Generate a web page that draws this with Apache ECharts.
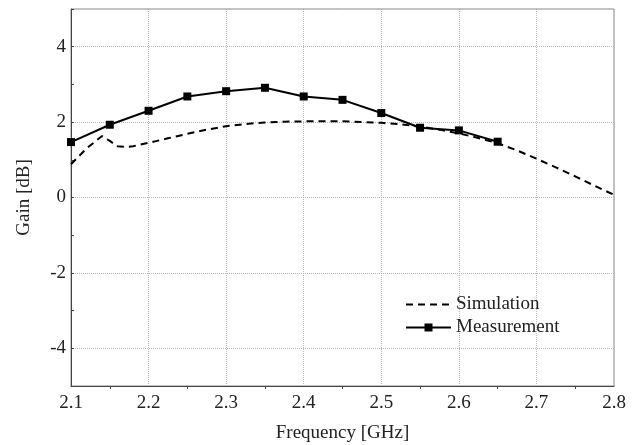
<!DOCTYPE html>
<html><head><meta charset="utf-8">
<script src="https://cdn.jsdelivr.net/npm/echarts@6/dist/echarts.min.js"></script>
<style>html,body{margin:0;padding:0;background:#fff}#c{width:641px;height:445px}</style>
</head><body><div id="c"></div>
<script>
const simFreq = [2.1,2.12,2.14,2.15,2.16,2.17,2.18,2.2,2.225,2.25,2.275,2.3,2.325,2.35,2.375,2.4,2.45,2.5,2.525,2.55,2.575,2.6,2.625,2.65,2.675,2.7,2.725,2.75,2.775,2.8];
const simGain = [0.88,1.3,1.63,1.5,1.36,1.34,1.36,1.45,1.57,1.69,1.8,1.89,1.95,1.99,2.01,2.02,2.02,1.98,1.94,1.88,1.8,1.7,1.58,1.44,1.25,1.03,0.8,0.56,0.31,0.07];
const measFreq = [2.1,2.15,2.2,2.25,2.3,2.35,2.4,2.45,2.5,2.55,2.6,2.65];
const measGain = [1.47,1.93,2.30,2.68,2.82,2.91,2.68,2.59,2.24,1.85,1.78,1.48];
const yTicks = [-4,-2,0,2,4];
const font = 'Liberation Serif';
const fs = 19;
const chart = echarts.init(document.getElementById('c'), null, {renderer:'canvas'});
chart.setOption({
  animation:false,
  textStyle:{fontFamily:font},
  grid:{left:71,right:27,top:9,bottom:59,show:true,borderColor:'#888',borderWidth:1,outerBoundsMode:'none',containLabel:false},
  legend:{
    orient:'vertical',left:400,top:290,itemWidth:45,itemHeight:10,itemGap:4,
    textStyle:{fontFamily:font,fontSize:fs,color:'#222'},
    data:[{name:'Simulation',itemStyle:{color:'rgba(0,0,0,0)',borderWidth:0}},'Measurement']
  },
  xAxis:{
    type:'value',min:2.1,max:2.8,interval:0.1,
    name:'Frequency [GHz]',nameLocation:'middle',nameGap:38,
    nameTextStyle:{fontFamily:font,fontSize:fs,color:'#222'},
    axisLine:{onZero:false,lineStyle:{color:'#444'}},
    axisTick:{show:false},
    minorTick:{show:true,splitNumber:2,length:3,lineStyle:{color:'#444'}},
    axisLabel:{fontFamily:font,fontSize:fs,color:'#222',margin:8,formatter:v=>v.toFixed(1)},
    splitLine:{show:true,lineStyle:{type:'dotted',color:'#bbb'}}
  },
  yAxis:{
    type:'value',min:-5,max:5,interval:1,
    name:'Gain [dB]',nameLocation:'middle',nameGap:37,
    nameTextStyle:{fontFamily:font,fontSize:fs,color:'#222'},
    axisLine:{onZero:false,lineStyle:{color:'#444'}},
    axisTick:{show:true,inside:true,length:3,lineStyle:{color:'#444'}},
    axisLabel:{fontFamily:font,fontSize:fs,color:'#222',margin:5,
      formatter:v=>yTicks.indexOf(Math.round(v))>=0 && Math.abs(v-Math.round(v))<1e-6 ? String(Math.round(v)) : ''},
    splitLine:{show:false}
  },
  series:[
    {name:'grid',type:'line',data:[],silent:true,z:0,
     markLine:{silent:true,z:0,symbol:'none',label:{show:false},animation:false,
       lineStyle:{type:'dotted',color:'#bbb',width:1},
       data:yTicks.map(v=>({yAxis:v}))}},
    {name:'Simulation',type:'line',symbol:'none',z:3,
     data:simFreq.map((f,i)=>[f,simGain[i]]),
     lineStyle:{color:'#000',width:2,type:[7,5]},itemStyle:{color:'#000'}},
    {name:'Measurement',type:'line',symbol:'rect',symbolSize:8,z:4,
     data:measFreq.map((f,i)=>[f,measGain[i]]),
     lineStyle:{color:'#000',width:2},itemStyle:{color:'#000'}}
  ]
});
</script></body></html>
